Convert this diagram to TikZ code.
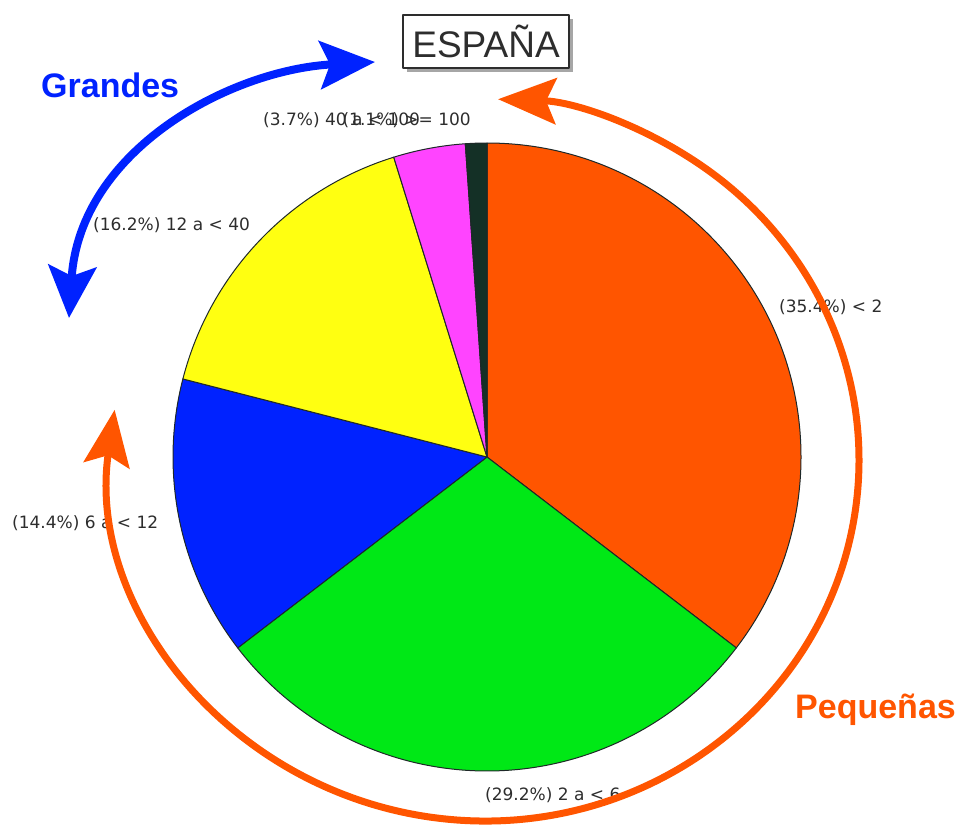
\documentclass[tikz,border=0pt]{standalone}
\usepackage{fontspec}
\setmainfont{Liberation Sans}
\newfontfamily\etiq{DejaVu Sans}
\usetikzlibrary{arrows.meta,shadows}
\definecolor{naranja}{RGB}{255,85,0}
\definecolor{verde}{RGB}{0,232,22}
\definecolor{azul}{RGB}{0,34,255}
\definecolor{amarillo}{RGB}{255,255,17}
\definecolor{rosa}{RGB}{255,68,255}
\definecolor{oscuro}{RGB}{20,48,38}
\definecolor{texto}{RGB}{45,45,45}
\definecolor{borde}{RGB}{30,40,40}
\begin{document}
\begin{tikzpicture}[x=1pt,y=1pt,line join=round,line cap=round,declare function={r=314;},
	etiqueta/.style={font=\etiq\fontsize{17}{17}\selectfont,text=texto,inner sep=0pt},
	grupo/.style={font=\bfseries\fontsize{34}{34}\selectfont,inner sep=0pt,anchor=base west}]
	\useasboundingbox (0,0) rectangle (961,-825);
	\path
	(487,-457) coordinate (O)
	(485,-460) coordinate (M)
	(M)+(172:374 and 361) coordinate (P1)
	(69,-318) coordinate (G1)
	(375,-62) coordinate (G2)
	;
	% sectores
	\foreach \a/\b/\c in {90/-37.44/naranja,-37.44/-142.56/verde,-142.56/-194.4/azul,-194.4/-252.72/amarillo,-252.72/-266.04/rosa,-266.04/-270/oscuro}
	\filldraw[fill=\c,draw=borde,line width=1pt] (O)--++(\a:r) arc (\a:\b:r)--cycle;
	\foreach \n/\x/\y/\an/\t in {e1/779/-307/west/{(35.4\%) < 2},e2/485/-795/west/{(29.2\%) 2 a < 6},e3/12/-523/west/{(14.4\%) 6 a < 12},e4/93/-225/west/{(16.2\%) 12 a < 40},e5/263/-120/west/{(3.7\%) 40 a < 100},e6/471/-120/east/{(1.1\%) >= 100}}
	\node[etiqueta,anchor=\an] (\n) at (\x,\y) {\t};
	% titulo
	\node[draw=texto,line width=2pt,fill=white,minimum width=166pt,minimum height=53pt,text=texto,font=\fontsize{37}{37}\selectfont,drop shadow={shadow xshift=4pt,shadow yshift=-4pt,fill=gray!70,opacity=1}] (espana) at (486,-41) {ESPAÑA};
	% flechas
	\draw[naranja,line width=7pt,{Stealth[length=56pt,width=46pt,inset=10pt]}-{Stealth[length=58pt,width=46pt,inset=10pt]}] (P1) arc[start angle=172,end angle=448,x radius=374,y radius=361];
	\draw[azul,line width=8pt,{Stealth[length=52pt,width=48pt,inset=10pt]}-{Stealth[length=55pt,width=48pt,inset=10pt]}] (G1) .. controls (80,-150) and (230,-70) .. (G2);
	\node[grupo,text=azul] (grandes) at (41,-97) {Grandes};
	\node[grupo,text=naranja] (pequenas) at (795,-718) {Pequeñas};
\end{tikzpicture}
\end{document}
